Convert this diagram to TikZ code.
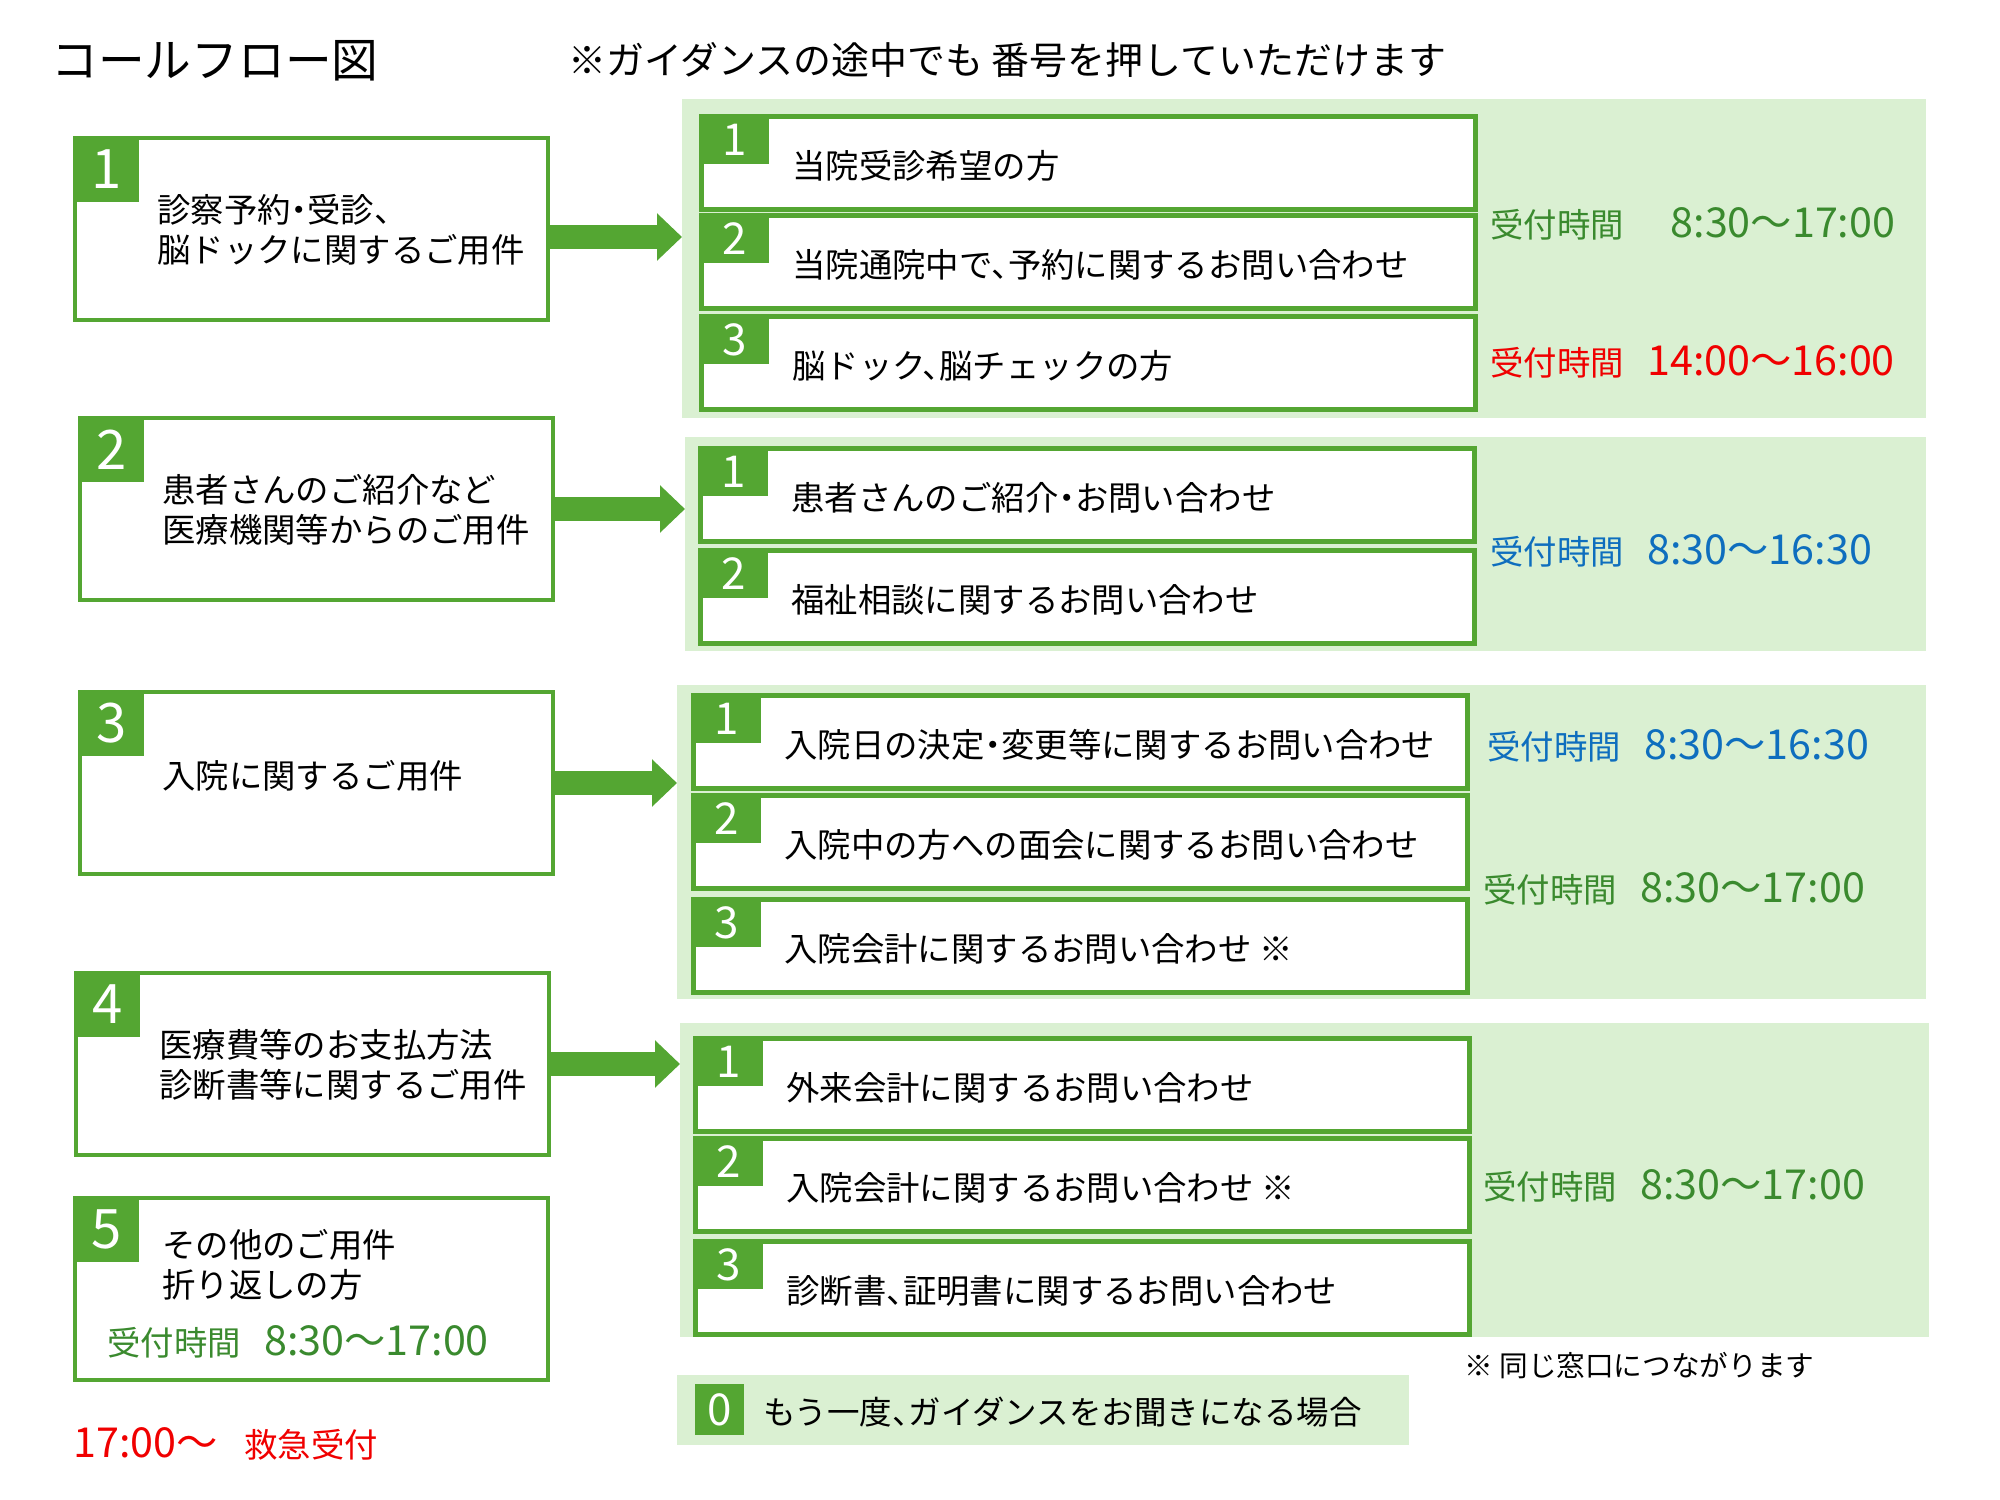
\documentclass[tikz,border=0pt]{standalone}
\usepackage{fontspec}
\setmainfont{Noto Sans CJK JP}[RawFeature=+halt]
\usepackage{tikz}
\usetikzlibrary{arrows.meta}
\definecolor{tabgruen}{HTML}{54A632}
\definecolor{flaechengruen}{HTML}{DAF0D2}
\definecolor{zeitgruen}{HTML}{3A8A2E}
\definecolor{zeitblau}{HTML}{0E6EBE}
\definecolor{zeitrot}{HTML}{F00000}
\def \breiteLinks {9.46cm}
\def \hoeheLinks {3.64cm}
\def \breiteZeile {15.48cm}
\def \hoeheZeile {1.86cm}
\newcommand{\titelschrift}{\fontsize{26.6}{30}\selectfont}
\newcommand{\kopfschrift}{\fontsize{21.6}{25}\selectfont}
\newcommand{\normalschrift}{\fontsize{19}{22.7}\selectfont}
\newcommand{\zeitschrift}{\fontsize{19}{23}\selectfont}
\newcommand{\hinweisschrift}{\fontsize{16.3}{19}\selectfont}
\newcommand{\nummerschrift}{\fontsize{31}{31}\selectfont}
\newcommand{\kleinnummerschrift}{\fontsize{25}{25}\selectfont}
\newcommand{\uhrzeit}[1]{{\fontsize{23.5}{23.5}\selectfont #1}}

\begin{document}
\begin{tikzpicture}[x=0.02cm,y=-0.02cm,
  linkskasten/.style={draw=tabgruen,line width=2.3pt,fill=white,anchor=north west,inner sep=0pt,minimum width=\breiteLinks,minimum height=\hoeheLinks},
  nummer/.style={fill=tabgruen,text=white,anchor=north west,inner sep=0pt,minimum width=1.32cm,minimum height=1.32cm,font=\nummerschrift},
  flaeche/.style={fill=flaechengruen,anchor=north west,inner sep=0pt},
  zeile/.style={draw=tabgruen,line width=2.8pt,fill=white,anchor=north west,inner sep=0pt,minimum width=\breiteZeile,minimum height=\hoeheZeile},
  kleinnummer/.style={fill=tabgruen,text=white,anchor=north west,inner sep=0pt,minimum width=1.4cm,minimum height=1cm,font=\kleinnummerschrift},
  beschriftung/.style={anchor=west,inner sep=0pt,align=left,font=\normalschrift},
  zeit/.style={anchor=west,inner sep=0pt,font=\zeitschrift},
  pfeil/.style={tabgruen,line width=0.48cm,-{Triangle[length=0.5cm,width=0.92cm]}}]
  \useasboundingbox (0,0) rectangle (2000,1500);

  % Ueberschrift
  \draw (51,61) node[anchor=west,inner sep=0pt,font=\titelschrift] (titel) {コールフロー図}
  (568,60) node[anchor=west,inner sep=0pt,font=\kopfschrift] (hinweis-oben) {※ガイダンスの途中でも 番号を押していただけます};

  % linke Spalte
  \draw (73,136) node[linkskasten] (links-1) {}
  ++(5,280) node[linkskasten] (links-2) {}
  ++(0,274) node[linkskasten] (links-3) {}
  ++(-4,281) node[linkskasten] (links-4) {}
  ++(-1,225) node[linkskasten] (links-5) {};
  \draw (links-1.north west) node[nummer] (nr-1) {1}
  (links-2.north west) node[nummer] (nr-2) {2}
  (links-3.north west) node[nummer] (nr-3) {3}
  (links-4.north west) node[nummer] (nr-4) {4}
  (links-5.north west) node[nummer] (nr-5) {5};
  \draw (157,230) node[beschriftung] (text-1) {診察予約・受診、\\脳ドックに関するご用件}
  (162,510) node[beschriftung] (text-2) {患者さんのご紹介など\\医療機関等からのご用件}
  (162,776) node[beschriftung] (text-3) {入院に関するご用件}
  (159,1065) node[beschriftung] (text-4) {医療費等のお支払方法\\診断書等に関するご用件}
  (162,1265) node[beschriftung] (text-5) {その他のご用件\\折り返しの方}
  (107,1342) node[zeit,text=zeitgruen] (zeit-5) {受付時間\hspace{0.7em}\uhrzeit{8:30～17:00}}
  (73,1444) node[zeit,text=zeitrot] (notfall) {\uhrzeit{17:00～}\hspace{0.8em}救急受付};

  % gruene Flaechen
  \draw (682,99) node[flaeche,minimum width=24.88cm,minimum height=6.38cm] (feld-1) {}
  (685,437) node[flaeche,minimum width=24.82cm,minimum height=4.28cm] (feld-2) {}
  (677,685) node[flaeche,minimum width=24.98cm,minimum height=6.28cm] (feld-3) {}
  (680,1023) node[flaeche,minimum width=24.98cm,minimum height=6.28cm] (feld-4) {}
  (677,1375) node[flaeche,minimum width=14.64cm,minimum height=1.4cm] (feld-0) {};

  % Pfeile
  \coordinate (pfeil-1) at ([yshift=-0.16cm]links-1.east);
  \draw[pfeil] (pfeil-1) -- (pfeil-1 -| feld-1.west);
  \draw[pfeil] (links-2.east) -- (links-2.east -| feld-2.west);
  \draw[pfeil] (links-3.east) -- (links-3.east -| feld-3.west);
  \draw[pfeil] (links-4.east) -- (links-4.east -| feld-4.west);

  % Zeilen rechts
  \draw (699,114) node[zeile] (z-1-1) {}
  ++(0,99) node[zeile] (z-1-2) {}
  ++(0,101) node[zeile] (z-1-3) {};
  \draw (698,446) node[zeile] (z-2-1) {}
  ++(0,102) node[zeile] (z-2-2) {};
  \draw (691,693) node[zeile] (z-3-1) {}
  ++(0,100) node[zeile] (z-3-2) {}
  ++(0,104) node[zeile] (z-3-3) {};
  \draw (693,1036) node[zeile] (z-4-1) {}
  ++(0,100) node[zeile] (z-4-2) {}
  ++(0,103) node[zeile] (z-4-3) {};

  \draw (z-1-1.north west) node[kleinnummer] (zn-1-1) {1}
  ([xshift=1.86cm,yshift=-0.06cm]z-1-1.west) node[beschriftung] (zt-1-1) {当院受診希望の方}
  (z-1-2.north west) node[kleinnummer] (zn-1-2) {2}
  ([xshift=1.86cm,yshift=-0.06cm]z-1-2.west) node[beschriftung] (zt-1-2) {当院通院中で、予約に関するお問い合わせ}
  (z-1-3.north west) node[kleinnummer] (zn-1-3) {3}
  ([xshift=1.86cm,yshift=-0.06cm]z-1-3.west) node[beschriftung] (zt-1-3) {脳ドック、脳チェックの方};
  \draw (z-2-1.north west) node[kleinnummer] (zn-2-1) {1}
  ([xshift=1.86cm,yshift=-0.06cm]z-2-1.west) node[beschriftung] (zt-2-1) {患者さんのご紹介・お問い合わせ}
  (z-2-2.north west) node[kleinnummer] (zn-2-2) {2}
  ([xshift=1.86cm,yshift=-0.06cm]z-2-2.west) node[beschriftung] (zt-2-2) {福祉相談に関するお問い合わせ};
  \draw (z-3-1.north west) node[kleinnummer] (zn-3-1) {1}
  ([xshift=1.86cm,yshift=-0.06cm]z-3-1.west) node[beschriftung] (zt-3-1) {入院日の決定・変更等に関するお問い合わせ}
  (z-3-2.north west) node[kleinnummer] (zn-3-2) {2}
  ([xshift=1.86cm,yshift=-0.06cm]z-3-2.west) node[beschriftung] (zt-3-2) {入院中の方への面会に関するお問い合わせ}
  (z-3-3.north west) node[kleinnummer] (zn-3-3) {3}
  ([xshift=1.86cm,yshift=-0.06cm]z-3-3.west) node[beschriftung] (zt-3-3) {入院会計に関するお問い合わせ ※};
  \draw (z-4-1.north west) node[kleinnummer] (zn-4-1) {1}
  ([xshift=1.86cm,yshift=-0.06cm]z-4-1.west) node[beschriftung] (zt-4-1) {外来会計に関するお問い合わせ}
  (z-4-2.north west) node[kleinnummer] (zn-4-2) {2}
  ([xshift=1.86cm,yshift=-0.06cm]z-4-2.west) node[beschriftung] (zt-4-2) {入院会計に関するお問い合わせ ※}
  (z-4-3.north west) node[kleinnummer] (zn-4-3) {3}
  ([xshift=1.86cm,yshift=-0.06cm]z-4-3.west) node[beschriftung] (zt-4-3) {診断書、証明書に関するお問い合わせ};

  % Zeiten
  \draw (1490,224) node[zeit,text=zeitgruen] (zeit-1a) {受付時間\hspace{1.4em}\uhrzeit{8:30～17:00}}
  (1490,362) node[zeit,text=zeitrot] (zeit-1b) {受付時間\hspace{0.7em}\uhrzeit{14:00～16:00}}
  (1490,551) node[zeit,text=zeitblau] (zeit-2) {受付時間\hspace{0.7em}\uhrzeit{8:30～16:30}}
  (1487,746) node[zeit,text=zeitblau] (zeit-3a) {受付時間\hspace{0.7em}\uhrzeit{8:30～16:30}}
  (1483,889) node[zeit,text=zeitgruen] (zeit-3b) {受付時間\hspace{0.7em}\uhrzeit{8:30～17:00}}
  (1483,1186) node[zeit,text=zeitgruen] (zeit-4) {受付時間\hspace{0.7em}\uhrzeit{8:30～17:00}}
  (1464,1366) node[anchor=west,inner sep=0pt,font=\hinweisschrift] (hinweis-unten) {※ 同じ窓口につながります};

  % Taste 0
  \draw (695,1384) node[fill=tabgruen,text=white,anchor=north west,inner sep=0pt,minimum width=0.98cm,minimum height=1.02cm,font=\kleinnummerschrift] (nr-0) {0}
  (763,1412) node[beschriftung,font=\fontsize{18.5}{22}\selectfont] (text-0) {もう一度、ガイダンスをお聞きになる場合};
\end{tikzpicture}
\end{document}
